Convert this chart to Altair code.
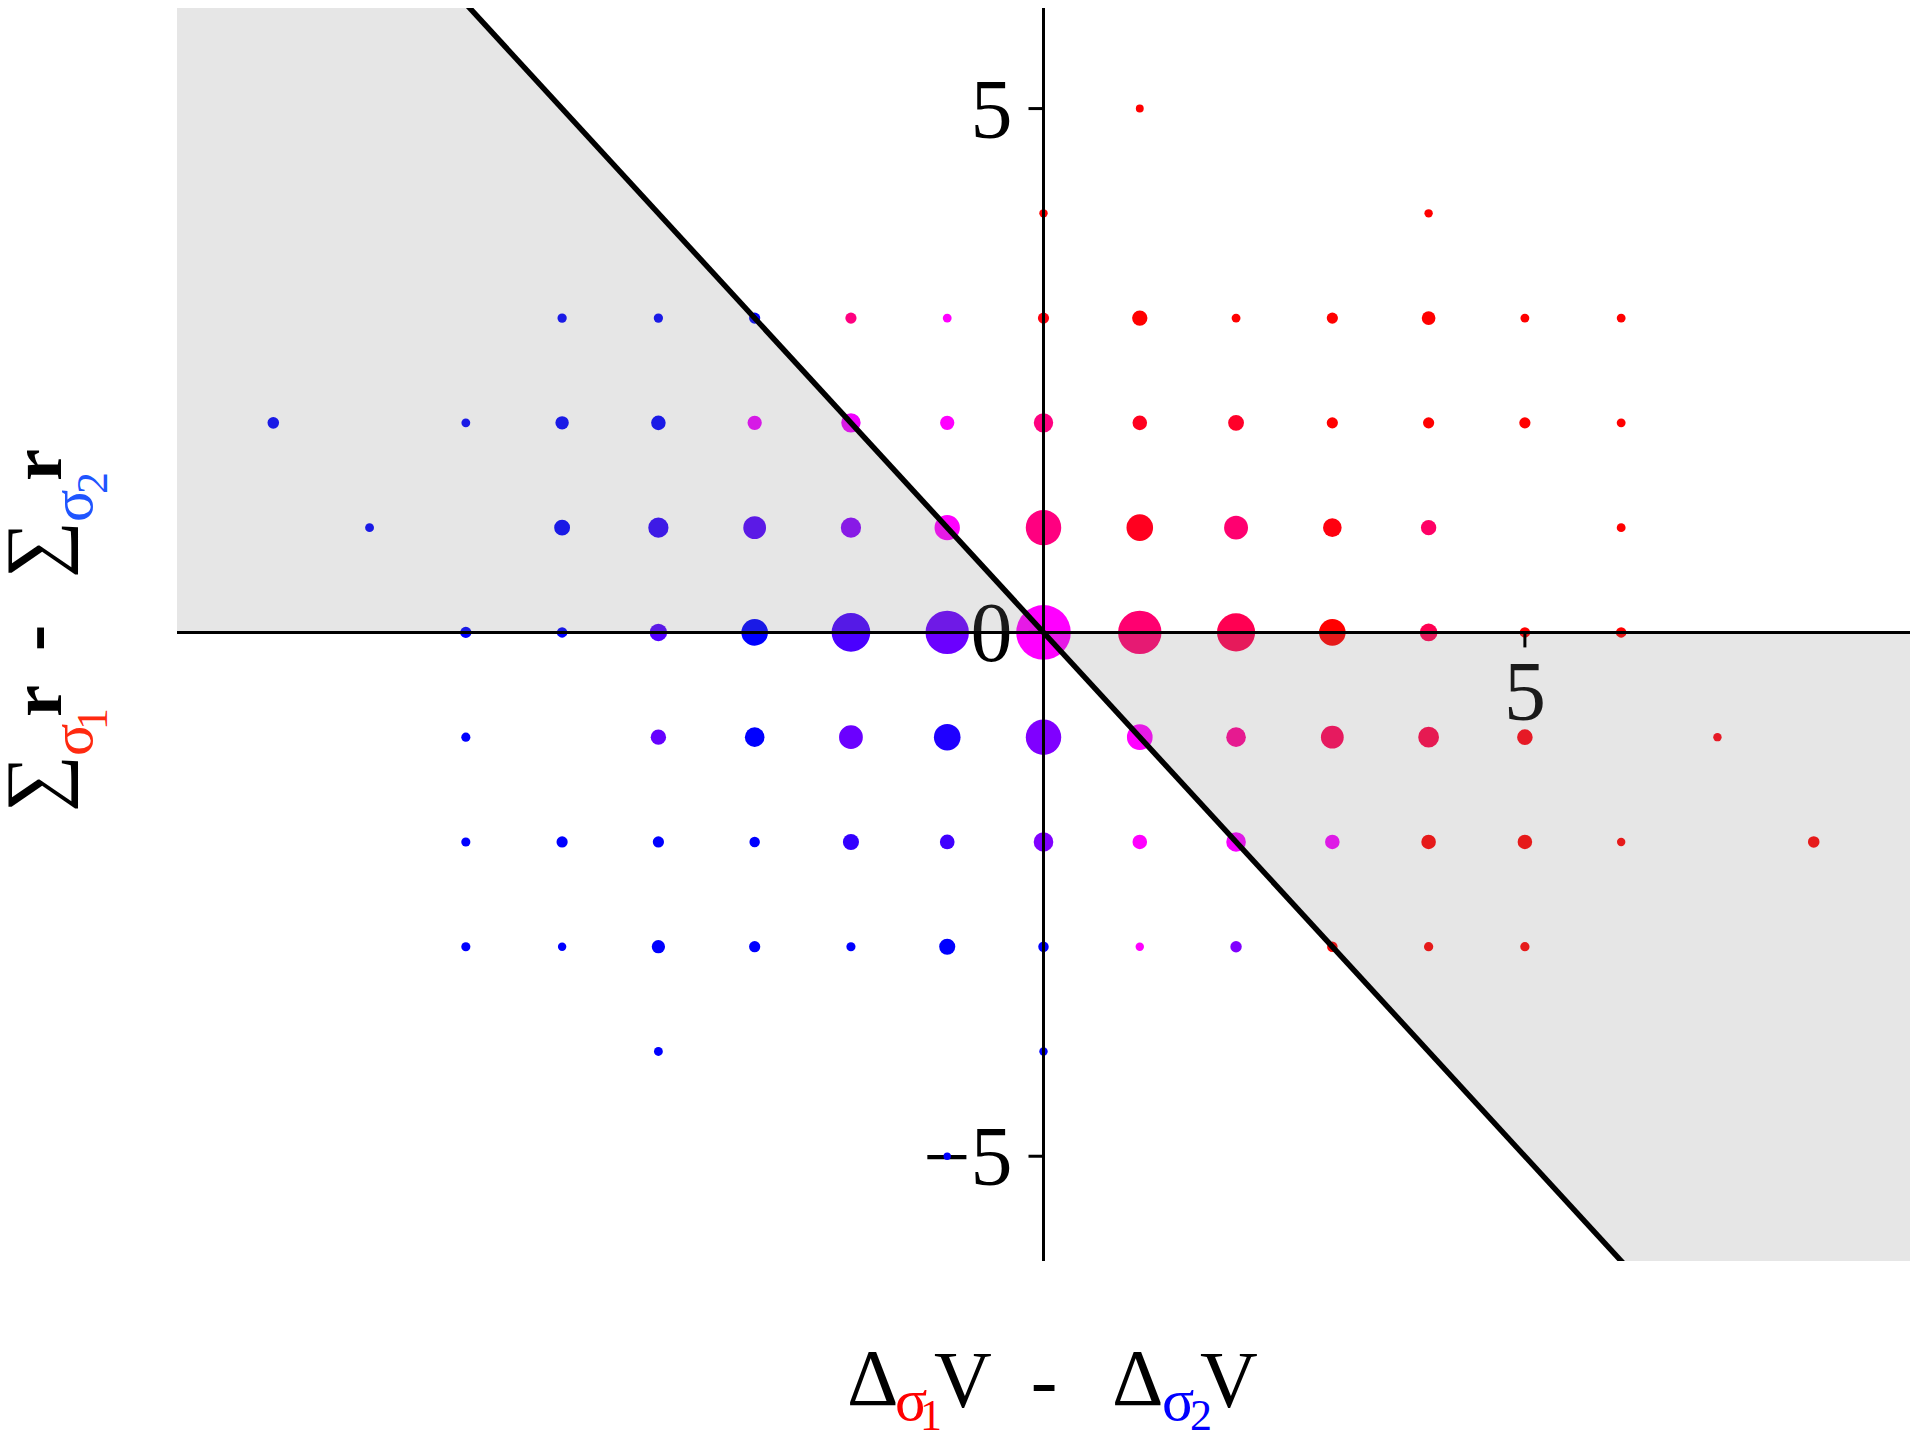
import altair as alt
import pandas as pd

FONT = "Liberation Serif, Times New Roman, Times, serif"

# ---- data: grid points (x, y), weight (point area), share (blue 0 -> magenta 0.5 -> red 1)
px = [1,
      0, 4,
      -5, -4, -3, -2, -1, 0, 1, 2, 3, 4, 5, 6,
      -8, -6, -5, -4, -3, -2, -1, 0, 1, 2, 3, 4, 5, 6,
      -7, -5, -4, -3, -2, -1, 0, 1, 2, 3, 4, 6,
      -6, -5, -4, -3, -2, -1, 0, 1, 2, 3, 4, 5, 6,
      -6, -4, -3, -2, -1, 0, 1, 2, 3, 4, 5, 7,
      -6, -5, -4, -3, -2, -1, 0, 1, 2, 3, 4, 5, 6, 8,
      -6, -5, -4, -3, -2, -1, 0, 1, 2, 3, 4, 5,
      -4, 0,
      -1]
py = [5,
      4, 4,
      3, 3, 3, 3, 3, 3, 3, 3, 3, 3, 3, 3,
      2, 2, 2, 2, 2, 2, 2, 2, 2, 2, 2, 2, 2, 2,
      1, 1, 1, 1, 1, 1, 1, 1, 1, 1, 1, 1,
      0, 0, 0, 0, 0, 0, 0, 0, 0, 0, 0, 0, 0,
      -1, -1, -1, -1, -1, -1, -1, -1, -1, -1, -1, -1,
      -2, -2, -2, -2, -2, -2, -2, -2, -2, -2, -2, -2, -2, -2,
      -3, -3, -3, -3, -3, -3, -3, -3, -3, -3, -3, -3,
      -4, -4,
      -5]
weight = [0.8,
          0.9, 0.9,
          1.1, 1.1, 1.6, 1.6, 1.0, 1.6, 3.0, 1.0, 1.6, 2.4, 1.0, 1.0,
          1.7, 1.0, 2.3, 2.7, 2.6, 4.8, 2.6, 4.8, 2.7, 3.2, 1.6, 1.6, 1.6, 1.0,
          1.0, 3.2, 5.2, 6.6, 5.2, 8.2, 16, 9.0, 7.3, 4.4, 3.0, 1.0,
          1.6, 1.4, 3.9, 9.0, 19, 24, 38, 24, 18.5, 9.0, 4.0, 1.4, 1.4,
          1.06, 3.0, 4.9, 7.2, 9.0, 16, 8.4, 4.9, 6.6, 5.5, 3.1, 0.9,
          1.06, 1.6, 1.6, 1.4, 3.3, 2.75, 4.9, 2.7, 4.9, 2.7, 2.7, 2.7, 0.9, 1.7,
          1.06, 0.9, 2.25, 1.6, 1.06, 3.3, 1.4, 0.9, 1.66, 1.4, 1.1, 1.1,
          1.0, 0.9,
          0.7]
share = [1.0,
         1.0, 1.0,
         0.0, 0.0, 0.0, 0.75, 0.5, 0.97, 1.0, 1.0, 1.0, 1.0, 1.0, 1.0,
         0.0, 0.0, 0.0, 0.0, 0.46, 0.47, 0.5, 0.75, 0.94, 0.92, 1.0, 1.0, 1.0, 1.0,
         0.0, 0.0, 0.09, 0.16, 0.27, 0.5, 0.75, 0.94, 0.78, 0.97, 0.8, 1.0,
         0.0, 0.0, 0.16, 0.0, 0.145, 0.21, 0.5, 0.78, 0.84, 1.0, 0.84, 1.0, 1.0,
         0.0, 0.2, 0.0, 0.21, 0.06, 0.25, 0.5, 0.71, 0.83, 0.86, 0.97, 0.97,
         0.0, 0.0, 0.0, 0.0, 0.1, 0.125, 0.25, 0.5, 0.48, 0.48, 1.0, 1.0, 1.0, 1.0,
         0.0, 0.0, 0.0, 0.0, 0.0, 0.0, 0.0, 0.5, 0.25, 1.0, 1.0, 1.0,
         0.0, 0.0,
         0.0]

y_tick_values = [5, 0, -5]
y_tick_labels = ["5", "0", "\u22125"]
x_tick_values = [5]
x_tick_labels = ["5"]

X_DOMAIN = [-9, 9]
Y_DOMAIN = [-6, 5.96]

# shaded half-planes bounded by the axis y = 0 and the line y = -x
shade_x = [-9, -6, 0]
shade_hi = [6, 6, 0]
shade2_x = [0, 6, 9]
shade2_lo = [0, -6, -6]
diag_x = [-7, 7]
diag_y = [7, -7]

xs = alt.Scale(domain=X_DOMAIN, nice=False, zero=False)
ys = alt.Scale(domain=Y_DOMAIN, nice=False, zero=False)

df = pd.DataFrame({"x": px, "y": py, "w": weight, "s": share})

points = alt.Chart(df).mark_circle(opacity=1).encode(
    x=alt.X("x:Q", scale=xs, axis=None),
    y=alt.Y("y:Q", scale=ys, axis=None),
    size=alt.Size("w:Q", scale=alt.Scale(domain=[0, 40], range=[0, 3140]), legend=None),
    color=alt.Color("s:Q", scale=alt.Scale(domain=[0, 0.5, 1],
                                           range=["#0000ff", "#ff00ff", "#ff0000"],
                                           interpolate="rgb"), legend=None),
)

shade1 = alt.Chart(pd.DataFrame({"x": shade_x, "lo": [0] * 3, "hi": shade_hi})).mark_area(
    color="#808080", opacity=0.2, clip=True
).encode(
    x=alt.X("x:Q", scale=xs, axis=None),
    y=alt.Y("lo:Q", scale=ys, axis=None),
    y2="hi:Q",
)
shade2 = alt.Chart(pd.DataFrame({"x": shade2_x, "lo": shade2_lo, "hi": [0] * 3})).mark_area(
    color="#808080", opacity=0.2, clip=True
).encode(
    x=alt.X("x:Q", scale=xs, axis=None),
    y=alt.Y("lo:Q", scale=ys, axis=None),
    y2="hi:Q",
)

diag = alt.Chart(pd.DataFrame({"x": diag_x, "y": diag_y})).mark_line(
    color="black", strokeWidth=5.5, clip=True
).encode(
    x=alt.X("x:Q", scale=xs, axis=None),
    y=alt.Y("y:Q", scale=ys, axis=None),
)

zero_df = pd.DataFrame({"v": [0]})
hline = alt.Chart(zero_df).mark_rule(color="black", strokeWidth=3).encode(
    y=alt.Y("v:Q", scale=ys, axis=None))
vline = alt.Chart(zero_df).mark_rule(color="black", strokeWidth=3).encode(
    x=alt.X("v:Q", scale=xs, axis=None))

ydf = pd.DataFrame({"v": y_tick_values, "lab": y_tick_labels, "z": [0] * len(y_tick_values)})
xdf = pd.DataFrame({"v": x_tick_values, "lab": x_tick_labels, "z": [0] * len(x_tick_values)})

ytick = alt.Chart(ydf).mark_rule(color="black", strokeWidth=3, x2Offset=-15).encode(
    y=alt.Y("v:Q", scale=ys, axis=None),
    x=alt.X("z:Q", scale=xs, axis=None), x2="z:Q")
ylab = alt.Chart(ydf).mark_text(align="right", baseline="alphabetic", dx=-31, dy=29,
                                fontSize=84, font=FONT, color="black").encode(
    y=alt.Y("v:Q", scale=ys, axis=None),
    x=alt.X("z:Q", scale=xs, axis=None), text="lab:N")

xtick = alt.Chart(xdf).mark_rule(color="black", strokeWidth=3, y2Offset=15).encode(
    x=alt.X("v:Q", scale=xs, axis=None),
    y=alt.Y("z:Q", scale=ys, axis=None), y2="z:Q")
xlab = alt.Chart(xdf).mark_text(align="center", baseline="alphabetic", dy=88,
                                fontSize=84, font=FONT, color="black").encode(
    x=alt.X("v:Q", scale=xs, axis=None),
    y=alt.Y("z:Q", scale=ys, axis=None), text="lab:N")


def txt(s, x, y, size, color="black", angle=0, align="left", weight="normal"):
    return alt.Chart(pd.DataFrame({"t": [s]})).mark_text(
        fontSize=size, color=color, angle=angle, align=align,
        baseline="alphabetic", font=FONT, fontWeight=weight
    ).encode(text="t:N", x=alt.value(x), y=alt.value(y))


RED = "#ff0000"
BLUE = "#0000ff"
RED2 = "#ff2a10"
BLUE2 = "#1f55ff"

x_title = [
    txt("\u0394", 670, 1397, 80),
    txt("\u03c3", 718, 1412, 60, RED),
    txt("1", 743, 1422, 44, RED),
    txt("V", 757, 1399, 80),
    txt("-", 867, 1399, 80, align="center"),
    txt("\u0394", 935, 1397, 80),
    txt("\u03c3", 985, 1412, 60, BLUE),
    txt("2", 1013, 1422, 44, BLUE),
    txt("V", 1023, 1399, 80),
]

y_title = [
    txt("\u2211", -116, 804, 80, angle=270),
    txt("\u03c3", -85, 748, 60, RED2, angle=270),
    txt("1", -70, 722, 44, RED2, angle=270),
    txt("r", -116, 709, 72, angle=270, weight="bold"),
    txt("-", -117, 630, 80, angle=270, align="center", weight="bold"),
    txt("\u2211", -116, 570, 80, angle=270),
    txt("\u03c3", -85, 514, 60, BLUE2, angle=270),
    txt("2", -70, 486, 44, BLUE2, angle=270),
    txt("r", -116, 473, 72, angle=270, weight="bold"),
]

chart = alt.layer(
    ylab, xlab, points, shade1, shade2, diag, hline, vline, ytick, xtick, *x_title, *y_title
).properties(
    width=1733, height=1253,
    padding={"left": 169, "top": 0, "right": 0, "bottom": 180},
    autosize=alt.AutoSizeParams(type="none"),
).configure_view(strokeWidth=0)

chart.save("out.html", embed_options={"renderer": "svg", "actions": False})
